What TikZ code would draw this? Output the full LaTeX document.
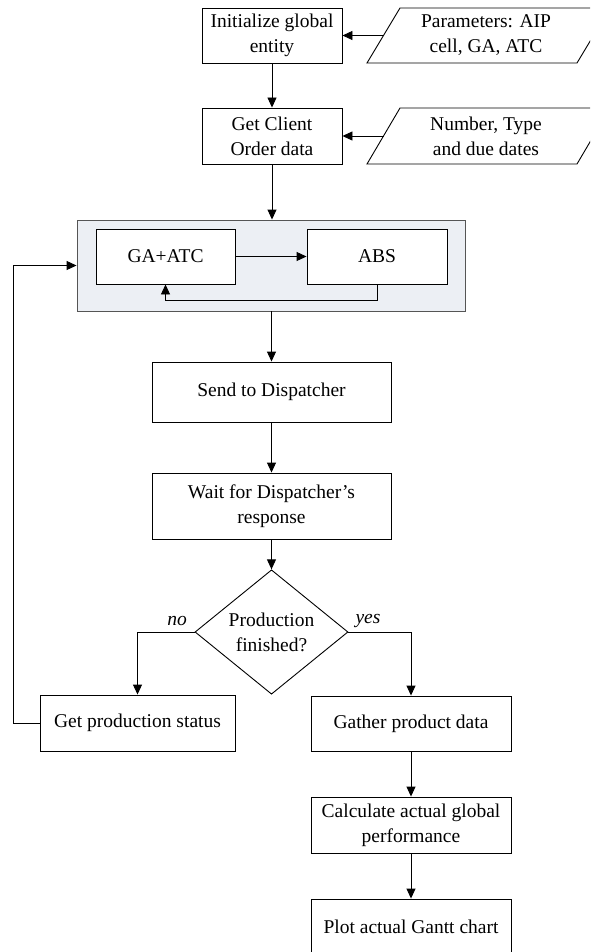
\documentclass[tikz,border=0pt]{standalone}
\usepackage{fontspec}
\setmainfont{Liberation Serif}
\usetikzlibrary{arrows.meta,shapes.geometric}
\definecolor{grpfill}{HTML}{ECEFF4}
\definecolor{grpdraw}{HTML}{555555}
\tikzset{
  base/.style={draw=black,line width=0.9pt,fill=white,align=center,inner sep=0pt,
    font=\fontsize{19.5}{25}\selectfont},
  proc/.style={base,rectangle},
  txt/.style={align=center,inner sep=0pt,font=\fontsize{19.5}{25}\selectfont},
  lbl/.style={inner sep=0pt,font=\fontsize{19.5}{25}\selectfont\itshape},
  io/.style={draw=black,line width=0.9pt,fill=white},
  arr/.style={line width=0.9pt,-{Triangle[length=10pt,width=9pt]}},
  ln/.style={line width=0.9pt},
}
\begin{document}
\begin{tikzpicture}[x=1pt,y=-1pt]
\clip (0,0) rectangle (590,952);
\fill[white] (0,0) rectangle (590,952);

% data inputs
\draw[io] (400,8) -- (610,8) -- (577,63) -- (367,63) -- cycle;
\node[txt] (par) at (486,35.5) {Parameters: AIP\\cell, GA, ATC};
\coordinate (parw) at (383.5,35.5);
\draw[io] (400,108) -- (610,108) -- (577,164) -- (367,164) -- cycle;
\node[txt] (num) at (486,136) {Number, Type\\and due dates};
\coordinate (numw) at (383.5,136);

\node[proc,minimum width=140pt,minimum height=55pt] (init) at (272,35.5) {Initialize global\\entity};
\node[proc,minimum width=140pt,minimum height=56pt] (order) at (272,136) {Get Client\\Order data};

% group
\node[draw=grpdraw,fill=grpfill,line width=0.9pt,minimum width=388pt,minimum height=91pt,inner sep=0pt] (grp) at (271,265.5) {};
\node[proc,minimum width=139pt,minimum height=55pt] (ga) at (165.5,256.5) {GA+ATC};
\node[proc,minimum width=140pt,minimum height=55pt] (abs) at (377,256.5) {ABS};

\node[proc,minimum width=239pt,minimum height=60pt] (send) at (271.5,392) {Send to Dispatcher};
\node[proc,minimum width=239pt,minimum height=66pt] (wait) at (271.5,506) {Wait for Dispatcher's\\response};
\node[base,diamond,minimum width=153pt,minimum height=98pt,inner sep=0pt] (dec) at (271.5,632) {Production\\finished?};

\node[proc,minimum width=195pt,minimum height=56pt] (stat) at (137.5,723) {Get production status};
\node[proc,minimum width=200pt,minimum height=55pt] (gath) at (411,723.5) {Gather product data};
\node[proc,minimum width=200pt,minimum height=56pt] (calc) at (411,825) {Calculate actual global\\performance};
\node[proc,minimum width=200pt,minimum height=55pt] (plot) at (411,926.5) {Plot actual Gantt chart};

% connectors
\draw[arr] (parw) -- (init.east);
\draw[arr] (numw) -- (order.east);
\draw[arr] (init) -- (order);
\draw[arr] (order.south) -- (order.south |- grp.north);
\draw[arr] (ga) -- (abs);
\coordinate (fb1) at (377,300);
\coordinate (fb2) at (165.5,300);
\draw[arr] (abs.south) -- (fb1) -- (fb2) -- (ga.south);
\draw[arr] (send.north |- grp.south) -- (send.north);
\draw[arr] (send) -- (wait);
\draw[arr] (wait) -- (dec);
\draw[arr] (dec.west) -| (stat.north);
\draw[arr] (dec.east) -| (gath.north);
\draw[arr] (gath) -- (calc);
\draw[arr] (calc) -- (plot);
\coordinate (lp1) at (13,723);
\coordinate (lp2) at (13,265.5);
\draw[arr] (stat.west) -- (lp1) -- (lp2) -- (grp.west);

\node[lbl] (no) at (177,621) {no};
\node[lbl] (yes) at (368,621) {yes};
\end{tikzpicture}
\end{document}
